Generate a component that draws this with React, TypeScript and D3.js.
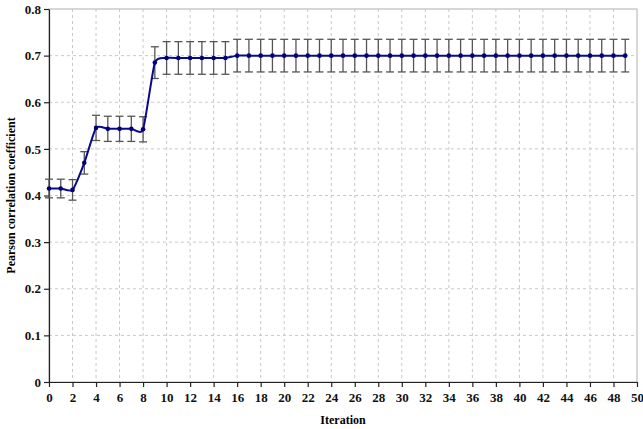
import React from "react";
import * as d3 from "d3";

// values
const iterations = d3.range(0, 50);
const meanValues = [
  0.415, 0.415, 0.412, 0.47, 0.545, 0.543, 0.543, 0.543, 0.542, 0.685,
  0.695, 0.695, 0.695, 0.695, 0.695, 0.695, 0.7, 0.7, 0.7, 0.7,
  0.7, 0.7, 0.7, 0.7, 0.7, 0.7, 0.7, 0.7, 0.7, 0.7,
  0.7, 0.7, 0.7, 0.7, 0.7, 0.7, 0.7, 0.7, 0.7, 0.7,
  0.7, 0.7, 0.7, 0.7, 0.7, 0.7, 0.7, 0.7, 0.7, 0.7,
];
const errValues = [
  0.02, 0.02, 0.022, 0.024, 0.027, 0.027, 0.027, 0.027, 0.027, 0.034,
  0.035, 0.035, 0.035, 0.035, 0.035, 0.035, 0.035, 0.035, 0.035, 0.035,
  0.035, 0.035, 0.035, 0.035, 0.035, 0.035, 0.035, 0.035, 0.035, 0.035,
  0.035, 0.035, 0.035, 0.035, 0.035, 0.035, 0.035, 0.035, 0.035, 0.035,
  0.035, 0.035, 0.035, 0.035, 0.035, 0.035, 0.035, 0.035, 0.035, 0.035,
];
const xTicks = d3.range(0, 51, 2);
const yTicks = [0, 0.1, 0.2, 0.3, 0.4, 0.5, 0.6, 0.7, 0.8];

const FONT = "Liberation Serif, DejaVu Serif, serif";

class App extends React.Component {
  svgRef = React.createRef<SVGSVGElement>();

  componentDidMount() {
    this.renderChart();
  }

  renderChart() {
    const svg = d3.select(this.svgRef.current);
    svg.selectAll("*").remove();

    const left = 49, right = 637, top = 9, bottom = 382;

    const x = d3.scaleLinear().domain([0, 50]).range([left, right]);
    const y = d3.scaleLinear().domain([0, 0.8]).range([bottom, top]);

    const data = iterations.map((it, i) => ({ it, v: meanValues[i], e: errValues[i] }));

    // plot frame (gray top/right)
    svg.append("rect")
      .attr("x", left).attr("y", top)
      .attr("width", right - left).attr("height", bottom - top)
      .attr("fill", "none").attr("stroke", "#b0b0b0").attr("stroke-width", 1);

    // dashed grid
    svg.append("g").selectAll("line").data(yTicks.slice(1, -1)).join("line")
      .attr("x1", left).attr("x2", right)
      .attr("y1", d => y(d)).attr("y2", d => y(d))
      .attr("stroke", "#c8c8c8").attr("stroke-dasharray", "3,3");
    svg.append("g").selectAll("line").data(xTicks.slice(1, -1)).join("line")
      .attr("x1", d => x(d)).attr("x2", d => x(d))
      .attr("y1", top).attr("y2", bottom)
      .attr("stroke", "#c8c8c8").attr("stroke-dasharray", "3,3");

    // axes
    const xAxis = svg.append("g")
      .attr("transform", `translate(0,${bottom})`)
      .call(d3.axisBottom(x).tickValues(xTicks).tickSize(5).tickSizeOuter(0).tickPadding(6).tickFormat(d3.format("d")));
    const yAxis = svg.append("g")
      .attr("transform", `translate(${left},0)`)
      .call(d3.axisLeft(y).tickValues(yTicks).tickSize(5).tickSizeOuter(0).tickPadding(3)
        .tickFormat(d => (d === 0 ? "0" : d3.format(".1f")(d as number))));
    [xAxis, yAxis].forEach(g => {
      g.attr("font-family", FONT).attr("font-size", 13).attr("font-weight", "bold");
      g.selectAll("path, line").attr("stroke", "#222").attr("stroke-width", 1.2);
      g.selectAll("text").attr("fill", "#111");
    });

    // error bars
    const eb = svg.append("g").attr("stroke", "#555").attr("stroke-width", 1.3);
    eb.selectAll(".v").data(data).join("line").attr("class", "v")
      .attr("x1", d => x(d.it)).attr("x2", d => x(d.it))
      .attr("y1", d => y(d.v - d.e)).attr("y2", d => y(d.v + d.e));
    eb.selectAll(".t").data(data).join("line").attr("class", "t")
      .attr("x1", d => x(d.it) - 4).attr("x2", d => x(d.it) + 4)
      .attr("y1", d => y(d.v + d.e)).attr("y2", d => y(d.v + d.e));
    eb.selectAll(".b").data(data).join("line").attr("class", "b")
      .attr("x1", d => x(d.it) - 4).attr("x2", d => x(d.it) + 4)
      .attr("y1", d => y(d.v - d.e)).attr("y2", d => y(d.v - d.e));

    // smoothed line
    const line = d3.line<{ it: number; v: number }>()
      .x(d => x(d.it)).y(d => y(d.v))
      .curve(d3.curveCardinal.tension(0.45));
    svg.append("path").datum(data)
      .attr("d", line)
      .attr("fill", "none").attr("stroke", "#0a0a8a").attr("stroke-width", 2);

    svg.append("g").selectAll("circle").data(data).join("circle")
      .attr("cx", d => x(d.it)).attr("cy", d => y(d.v)).attr("r", 2.3)
      .attr("fill", "#00007a");

    // axis titles
    svg.append("text")
      .attr("x", (left + right) / 2).attr("y", 424)
      .attr("text-anchor", "middle")
      .attr("font-family", FONT).attr("font-size", 12).attr("font-weight", "bold")
      .text("Iteration");
    svg.append("text")
      .attr("transform", `translate(15,${(top + bottom) / 2}) rotate(-90)`)
      .attr("text-anchor", "middle")
      .attr("font-family", FONT).attr("font-size", 12).attr("font-weight", "bold")
      .text("Pearson correlation coefficient");
  }

  render() {
    return (
      <svg ref={this.svgRef} width={643} height={429}
        style={{ position: "absolute", left: 0, top: 0, background: "#fff" }} />
    );
  }
}

export default App;
